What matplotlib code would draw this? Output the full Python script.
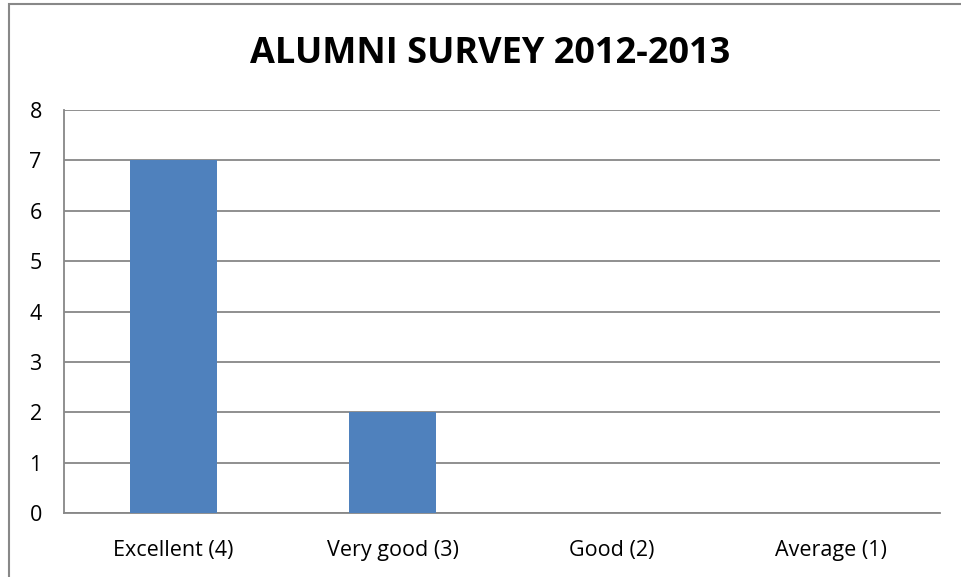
import matplotlib
matplotlib.use("Agg")
import matplotlib.pyplot as plt
from matplotlib.patches import Rectangle

categories = ["Excellent (4)", "Very good (3)", "Good (2)", "Average (1)"]
values = [7, 2, 0, 0]
yticks = [0, 1, 2, 3, 4, 5, 6, 7, 8]
title = "ALUMNI SURVEY 2012-2013"

plt.rcParams['font.family'] = ['Open Sans', 'DejaVu Sans']

fig = plt.figure(figsize=(9.61, 5.77), dpi=100)
ax = fig.add_axes([64/961, 1-513/577, (940-64)/961, (513-110)/577])

grid_c = "#878787"
ax.bar(range(len(categories)), values, width=0.395, color="#4F81BD", zorder=3)
ax.set_xlim(-0.5, len(categories)-0.5)
ax.set_ylim(0, 8)
ax.set_yticks(yticks)
ax.set_xticks(range(len(categories)))
ax.set_xticklabels(categories, fontsize=15.5)
ax.tick_params(axis='y', labelsize=15.5, length=0, pad=16)
ax.tick_params(axis='x', length=0, pad=19.5)
ax.yaxis.grid(True, color=grid_c, linewidth=1.3, zorder=0)
ax.set_axisbelow(True)
for s in ['top', 'right']:
    ax.spines[s].set_visible(False)
for s in ['left', 'bottom']:
    ax.spines[s].set_color(grid_c)
    ax.spines[s].set_linewidth(1.3)

fig.text(490/961, 1-54/577, title, ha='center', va='center', fontsize=26, fontweight='bold')

fig.patches.append(Rectangle((9/961, -0.05), 1.1, 1.05 - 4/577, transform=fig.transFigure,
                             fill=False, edgecolor="#888888", linewidth=1.5))

fig.savefig("out.png", dpi=100)
